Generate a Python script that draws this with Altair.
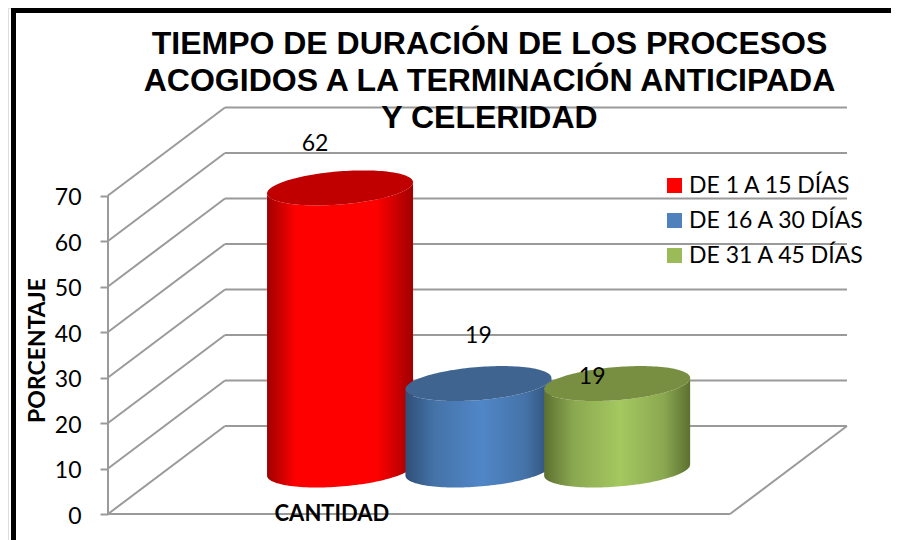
import math
import altair as alt
import pandas as pd

title_lines = ["TIEMPO DE DURACIÓN DE LOS PROCESOS",
               "ACOGIDOS A LA TERMINACIÓN ANTICIPADA",
               "Y CELERIDAD"]
series = ["DE 1 A 15 DÍAS", "DE 16 A 30 DÍAS", "DE 31 A 45 DÍAS"]
values = [62, 19, 19]
category_pos = [0.279, 0.5015, 0.7245]
ticks = [0, 10, 20, 30, 40, 50, 60, 70]
legend_colors = ["#ff0000", "#4f81bd", "#9bbb59"]
top_colors = ["#c00000", "#3e648f", "#788f42"]
edge_colors = ["#a00000", "#2f4f78", "#5c7030"]
shoulder_colors = ["#ff0000", "#4573a8", "#8aa850"]
center_colors = ["#ff0000", "#5086c8", "#a5c860"]
label_shift = [(-25, -44), (0, -48), (-25, -7)]

W, H = 883, 532
PX_X, PX_Y = 622.0, 4.55
X_DOM = [-100 / PX_X, 783 / PX_X]
Y_DOM = [-26 / PX_Y, 506 / PX_Y]
DEPTH_X, DEPTH_Y = 117 / PX_X, 88 / PX_Y
R_PX, KY_PX, KX_PX = 73.0, 17.5, 23.3
PHI = math.atan2(KX_PX, math.sqrt(R_PX**2 - KX_PX**2))
GRID = "#9a9a9a"
FONT = "Lato"

xs = alt.Scale(domain=X_DOM, nice=False, zero=False)
ys = alt.Scale(domain=Y_DOM, nice=False, zero=False)


def xy(xf="x", yf="y", **kw):
    return dict(x=alt.X(xf, type="quantitative", scale=xs, axis=None),
                y=alt.Y(yf, type="quantitative", scale=ys, axis=None), **kw)


def arcs(cx, base, value):
    rows = []
    for i in range(73):
        th = math.pi * i / 72
        px = R_PX * math.cos(th)
        up = KY_PX * math.sin(PHI + th)
        lo = KY_PX * math.sin(PHI - th)
        rows.append(dict(x=cx + px / PX_X,
                         top_up=base + value + up / PX_Y,
                         top_lo=base + value + lo / PX_Y,
                         bot_lo=base + lo / PX_Y))
    return pd.DataFrame(rows)


# walls and floor
grid_rows = []
for t in ticks:
    grid_rows.append(dict(x=0, x2=DEPTH_X, y=t, y2=t + DEPTH_Y))
    grid_rows.append(dict(x=DEPTH_X, x2=1 + DEPTH_X, y=t + DEPTH_Y, y2=t + DEPTH_Y))
grid_rows.append(dict(x=0, x2=0, y=0, y2=70))
grid_rows.append(dict(x=0, x2=1, y=0, y2=0))
grid_rows.append(dict(x=1, x2=1 + DEPTH_X, y=0, y2=DEPTH_Y))
grid_df = pd.DataFrame(grid_rows)
grid = alt.Chart(grid_df).mark_rule(color=GRID, strokeWidth=2).encode(
    x=alt.X("x:Q", scale=xs, axis=None),
    x2="x2:Q",
    y=alt.Y("y:Q", scale=ys, axis=alt.Axis(
        values=ticks, offset=-100, domain=False, grid=False,
        tickColor=GRID, tickWidth=2, tickSize=8,
        labelFont=FONT, labelFontSize=23, labelColor="#000000", labelPadding=19,
        labelOffset=2,
        title="PORCENTAJE", titleFont=FONT, titleFontSize=23, titleFontWeight="bold",
        titleColor="#000000", titleX=-59, titleY=342, titleAngle=-90)),
    y2="y2:Q",
)

layers = [grid]
for i, v in enumerate(values):
    cx = category_pos[i] + DEPTH_X / 2
    base = DEPTH_Y / 2
    df = arcs(cx, base, v)
    if i == 0:
        stops = [(edge_colors[i], 0), (center_colors[i], 0.2),
                 (center_colors[i], 0.75), (edge_colors[i], 1)]
    else:
        stops = [(edge_colors[i], 0), (shoulder_colors[i], 0.2),
                 (center_colors[i], 0.52), (shoulder_colors[i], 0.82),
                 (edge_colors[i], 1)]
    grad = alt.Gradient(
        gradient="linear", x1=0, x2=1, y1=0, y2=0,
        stops=[alt.GradientStop(color=c, offset=o) for c, o in stops])
    body = alt.Chart(df).mark_area(color=grad).encode(**xy("x", "top_lo"), y2="bot_lo:Q")
    top = alt.Chart(df).mark_area(color=top_colors[i]).encode(**xy("x", "top_up"), y2="top_lo:Q")
    layers += [body, top]

for i, v in enumerate(values):
    cx = category_pos[i] + DEPTH_X / 2
    df = pd.DataFrame([dict(x=cx, y=DEPTH_Y / 2 + v, t=str(v))])
    layers.append(alt.Chart(df).mark_text(
        font=FONT, fontSize=23, color="#000000",
        dx=label_shift[i][0], dy=label_shift[i][1]).encode(**xy(), text="t:N"))

cat_df = pd.DataFrame([dict(x=0.36, y=0, t="CANTIDAD")])
layers.append(alt.Chart(cat_df).mark_text(
    font=FONT, fontSize=22, fontWeight="bold", color="#000000").encode(**xy(), text="t:N"))

legend_df = pd.DataFrame(dict(x=[0.5] * 3, y=[0] * 3, s=series))
layers.append(alt.Chart(legend_df).mark_square(size=0, opacity=1).encode(
    **xy(),
    color=alt.Color("s:N", sort=series,
                    scale=alt.Scale(domain=series, range=legend_colors),
                    legend=alt.Legend(
                        title=None, orient="none", legendX=655, legendY=166,
                        symbolType="square", symbolSize=225, symbolStrokeWidth=0,
                        symbolOpacity=1, labelLimit=300,
                        labelFont=FONT, labelFontSize=23, labelColor="#000000",
                        labelOffset=3, rowPadding=11))))

frame_df = pd.DataFrame(dict(k=["frame"]))
layers.append(alt.Chart(frame_df).mark_rule(color="#000000", strokeWidth=5).encode(
    x=alt.value(3), x2=alt.value(W), y=alt.value(2.5), y2=alt.value(2.5)))
layers.append(alt.Chart(frame_df).mark_rule(color="#000000", strokeWidth=5).encode(
    x=alt.value(5.5), x2=alt.value(5.5), y=alt.value(0), y2=alt.value(H)))

chart = alt.layer(*layers).resolve_axis(y="independent").properties(
    width=W, height=H, padding=0,
    autosize=alt.AutoSizeParams(type="none"),
    title=alt.TitleParams(
        text=title_lines, anchor="middle", frame="group", align="center",
        baseline="top", font="Liberation Sans", fontSize=32, fontWeight="bold",
        color="#000000", lineHeight=37, dx=40, dy=129, offset=0),
).configure_view(stroke=None).configure(background="#ffffff")

chart.save("out.html", embed_options={"renderer": "svg", "actions": False})
